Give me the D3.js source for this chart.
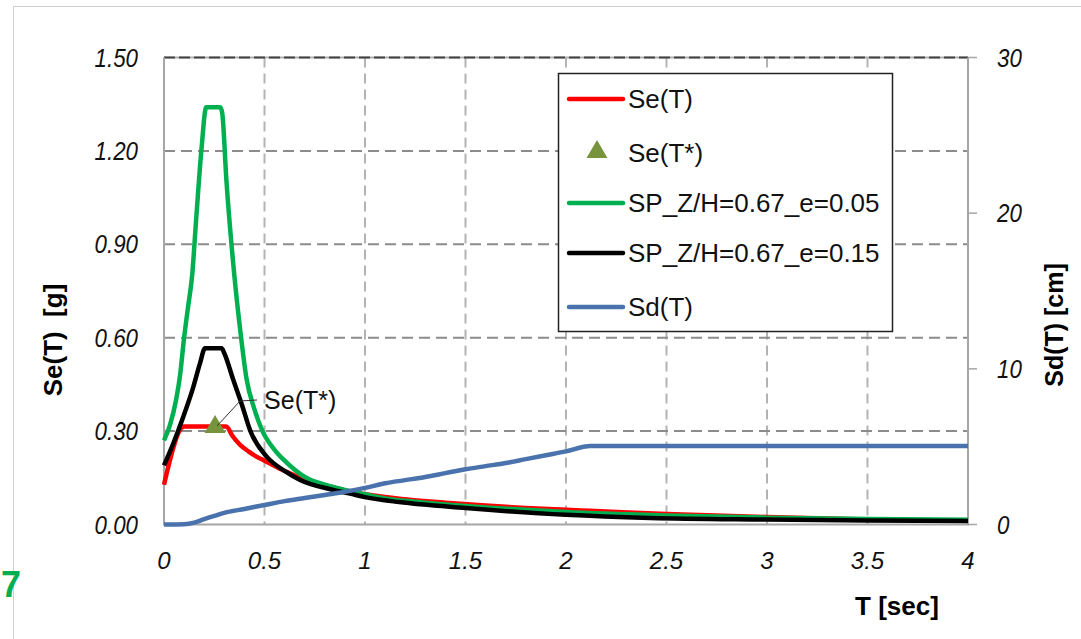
<!DOCTYPE html>
<html>
<head>
<meta charset="utf-8">
<script src="https://cdn.jsdelivr.net/npm/d3@7/dist/d3.min.js"></script>
<style>
  html, body { margin: 0; padding: 0; background: #ffffff; }
  svg { display: block; font-family: "Liberation Sans", Arial, sans-serif; }
</style>
</head>
<body>
<svg id="chart" width="1081" height="639"></svg>
<script>
// ---------- data ----------
const xTicks = [0, 0.5, 1, 1.5, 2, 2.5, 3, 3.5, 4];
const xTickLabels = ["0", "0.5", "1", "1.5", "2", "2.5", "3", "3.5", "4"];
const yTicks = [0, 0.3, 0.6, 0.9, 1.2, 1.5];
const yTickLabels = ["0.00", "0.30", "0.60", "0.90", "1.20", "1.50"];
const yRTicks = [0, 10, 20, 30];
const yRTickLabels = ["0", "10", "20", "30"];

// Se(T) elastic spectrum (red)
const seT   = [0, 0.1, 0.31, 0.34, 0.38, 0.42, 0.46, 0.5, 0.6, 0.7, 0.8, 0.9, 1.0, 1.2, 1.4, 1.6, 1.8, 2.0, 2.12, 2.5, 3.0, 3.5, 4.0];
const seVal = [0.128, 0.315, 0.315, 0.285, 0.255, 0.235, 0.218, 0.205, 0.172, 0.146, 0.126, 0.109, 0.097, 0.081, 0.07, 0.061, 0.053, 0.047, 0.044, 0.034, 0.024, 0.016, 0.012];

// SP_Z/H=0.67_e=0.05 (green)
const sp05T   = [0, 0.03, 0.06, 0.08, 0.1, 0.12, 0.14, 0.16, 0.187, 0.21, 0.28, 0.29, 0.31, 0.35, 0.38, 0.41, 0.45, 0.49, 0.55, 0.6, 0.7, 0.8, 0.9, 1.0, 1.1, 1.2, 1.4, 1.6, 1.8, 2.0, 2.5, 3.0, 3.5, 4.0];
const sp05Val = [0.27, 0.32, 0.40, 0.48, 0.60, 0.70, 0.80, 0.98, 1.21, 1.34, 1.34, 1.32, 1.11, 0.80, 0.62, 0.47, 0.37, 0.30, 0.24, 0.205, 0.153, 0.128, 0.111, 0.097, 0.084, 0.076, 0.064, 0.055, 0.047, 0.040, 0.029, 0.022, 0.018, 0.015];

// SP_Z/H=0.67_e=0.15 (black)
const sp15T   = [0, 0.046, 0.096, 0.146, 0.18, 0.204, 0.287, 0.3, 0.345, 0.39, 0.428, 0.511, 0.6, 0.677, 0.842, 0.926, 1.0, 1.17, 1.5, 2.0, 2.42, 3.0, 3.5, 4.0];
const sp15Val = [0.19, 0.26, 0.346, 0.442, 0.52, 0.566, 0.566, 0.55, 0.464, 0.38, 0.303, 0.218, 0.172, 0.143, 0.111, 0.099, 0.088, 0.072, 0.053, 0.031, 0.021, 0.016, 0.013, 0.011];

// Sd(T) displacement spectrum, cm (blue, right axis)
const sdT   = [0, 0.1, 0.15, 0.2, 0.25, 0.3, 0.4, 0.5, 0.6, 0.7, 0.8, 0.9, 1.0, 1.1, 1.2, 1.3, 1.4, 1.5, 1.6, 1.7, 1.8, 1.9, 2.0, 2.12, 4.0];
const sdVal = [0, 0.02, 0.12, 0.35, 0.55, 0.75, 1.0, 1.25, 1.5, 1.7, 1.9, 2.1, 2.35, 2.65, 2.85, 3.05, 3.3, 3.55, 3.75, 3.95, 4.2, 4.45, 4.7, 5.04, 5.04];

// Se(T*) point
const starT = [0.254];
const starVal = [0.31];

const legendLabels = ["Se(T)", "Se(T*)", "SP_Z/H=0.67_e=0.05", "SP_Z/H=0.67_e=0.15", "Sd(T)"];

// ---------- drawing ----------
const svg = d3.select("#chart");
const x = d3.scaleLinear().domain([0, 4]).range([164, 968]);
const y = d3.scaleLinear().domain([0, 1.5]).range([524.5, 57.5]);
const yR = d3.scaleLinear().domain([0, 30]).range([524.5, 57.5]);

const RED = "#ff0000", GREEN = "#00b050", BLACK = "#000000", BLUE = "#4a72ad", OLIVE = "#77933c";

// outer chart border
svg.append("rect").attr("x", 13.5).attr("y", 6.5).attr("width", 1200).attr("height", 800)
  .attr("fill", "none").attr("stroke", "#d0d0d0").attr("stroke-width", 1);

// vertical gridlines
svg.append("g").selectAll("line").data(xTicks.slice(1, -1)).join("line")
  .attr("x1", d => x(d)).attr("x2", d => x(d))
  .attr("y1", y(1.5)).attr("y2", y(0))
  .attr("stroke", "#b3b3b3").attr("stroke-width", 2).attr("stroke-dasharray", "10,6");

// horizontal gridlines
svg.append("g").selectAll("line").data(yTicks.slice(1, -1)).join("line")
  .attr("x1", x(0)).attr("x2", x(4))
  .attr("y1", d => y(d)).attr("y2", d => y(d))
  .attr("stroke", "#8c8c8c").attr("stroke-width", 2).attr("stroke-dasharray", "11,6");

// top line (dark dashed)
svg.append("line").attr("x1", x(0)).attr("x2", x(4)).attr("y1", y(1.5)).attr("y2", y(1.5))
  .attr("stroke", "#b0b0b0").attr("stroke-width", 2);
svg.append("line").attr("x1", x(0)).attr("x2", x(4)).attr("y1", y(1.5)).attr("y2", y(1.5))
  .attr("stroke", "#444").attr("stroke-width", 2).attr("stroke-dasharray", "11,4");

// axes lines
const axisColor = "#a6a6a6";
svg.append("line").attr("x1", x(0)).attr("x2", x(0)).attr("y1", y(1.5)).attr("y2", y(0))
  .attr("stroke", axisColor).attr("stroke-width", 2);
svg.append("line").attr("x1", x(4)).attr("x2", x(4)).attr("y1", y(1.5)).attr("y2", y(0))
  .attr("stroke", axisColor).attr("stroke-width", 2);
svg.append("line").attr("x1", x(0) - 1).attr("x2", x(4) + 1).attr("y1", y(0)).attr("y2", y(0))
  .attr("stroke", axisColor).attr("stroke-width", 2);

// right axis tick marks
svg.append("g").selectAll("line").data(yRTicks).join("line")
  .attr("x1", x(4)).attr("x2", x(4) + 9)
  .attr("y1", d => yR(d)).attr("y2", d => yR(d))
  .attr("stroke", axisColor).attr("stroke-width", 1.5);

// tick labels
const tickFont = 26;
svg.append("g").selectAll("text").data(yTicks).join("text")
  .attr("transform", d => `translate(138,${y(d) + 9}) scale(0.86,1)`)
  .attr("text-anchor", "end").attr("font-style", "italic").attr("font-size", tickFont)
  .attr("fill", "#111").text((d, i) => yTickLabels[i]);

svg.append("g").selectAll("text").data(yRTicks).join("text")
  .attr("transform", d => `translate(997,${yR(d) + 9}) scale(0.86,1)`)
  .attr("text-anchor", "start").attr("font-style", "italic").attr("font-size", tickFont)
  .attr("fill", "#111").text((d, i) => yRTickLabels[i]);

svg.append("g").selectAll("text").data(xTicks).join("text")
  .attr("x", d => x(d)).attr("y", 569)
  .attr("text-anchor", "middle").attr("font-style", "italic").attr("font-size", 24)
  .attr("fill", "#111").text((d, i) => xTickLabels[i]);

// axis titles
svg.append("text").attr("transform", "translate(62,340) rotate(-90)")
  .attr("text-anchor", "middle").attr("font-weight", "bold").attr("font-size", 26)
  .attr("fill", "#000").text("Se(T)\u00a0\u00a0[g]");
svg.append("text").attr("transform", "translate(1063,325) rotate(-90)")
  .attr("text-anchor", "middle").attr("font-weight", "bold").attr("font-size", 25)
  .attr("fill", "#000").text("Sd(T) [cm]");
svg.append("text").attr("x", 897).attr("y", 615)
  .attr("text-anchor", "middle").attr("font-weight", "bold").attr("font-size", 26)
  .attr("fill", "#000").text("T [sec]");

// curves
function drawCurve(ts, vs, scaleY, color, width) {
  const pts = ts.map((t, i) => [t, vs[i]]);
  svg.append("path").datum(pts)
    .attr("d", d3.line().curve(d3.curveMonotoneX).x(d => x(d[0])).y(d => scaleY(d[1])))
    .attr("fill", "none").attr("stroke", color).attr("stroke-width", width)
    .attr("stroke-linejoin", "round").attr("stroke-linecap", "butt");
}
drawCurve(seT, seVal, y, RED, 4.5);
drawCurve(sp05T, sp05Val, y, GREEN, 4.5);
drawCurve(sp15T, sp15Val, y, BLACK, 4.5);
drawCurve(sdT, sdVal, yR, BLUE, 4.5);

// Se(T*) marker
const tri = d3.symbol().type(d3.symbolTriangle).size(190);
svg.append("g").selectAll("path").data(starT).join("path")
  .attr("transform", (d, i) => `translate(${x(d)},${y(starVal[i]) - 1})`)
  .attr("d", tri).attr("fill", OLIVE);

// annotation leader + label
const px = x(starT[0]), py = y(starVal[0]);
svg.append("path")
  .attr("d", `M${px + 2},${py - 2} L${px + 25},${py - 27} L${px + 42},${py - 28}`)
  .attr("fill", "none").attr("stroke", "#333").attr("stroke-width", 1);
svg.append("text").attr("x", px + 49).attr("y", py - 19)
  .attr("font-size", 25).attr("fill", "#111").text("Se(T*)");

// legend
const lg = svg.append("g");
lg.append("rect").attr("x", 558.5).attr("y", 73.5).attr("width", 334).attr("height", 258)
  .attr("fill", "#fff").attr("stroke", "#222").attr("stroke-width", 1.5);
const rowY = [99, 153, 203, 253, 307];
const rowColor = [RED, null, GREEN, BLACK, BLUE];
lg.selectAll("line").data(rowY.filter((d, i) => rowColor[i])).join("line")
  .attr("x1", 569).attr("x2", 623)
  .attr("y1", d => d).attr("y2", d => d)
  .attr("stroke", (d, i) => rowColor.filter(c => c)[i]).attr("stroke-width", 4.5)
  .attr("stroke-linecap", "round");
lg.append("path").attr("transform", `translate(597,${rowY[1] - 1})`)
  .attr("d", tri).attr("fill", OLIVE);
lg.selectAll("text").data(legendLabels).join("text")
  .attr("x", 628).attr("y", (d, i) => rowY[i] + 9)
  .attr("font-size", 26).attr("fill", "#111").text(d => d);

// green "7" at the left edge
svg.append("text").attr("x", 1).attr("y", 597)
  .attr("font-weight", "bold").attr("font-size", 36).attr("fill", GREEN).text("7");
</script>
</body>
</html>
